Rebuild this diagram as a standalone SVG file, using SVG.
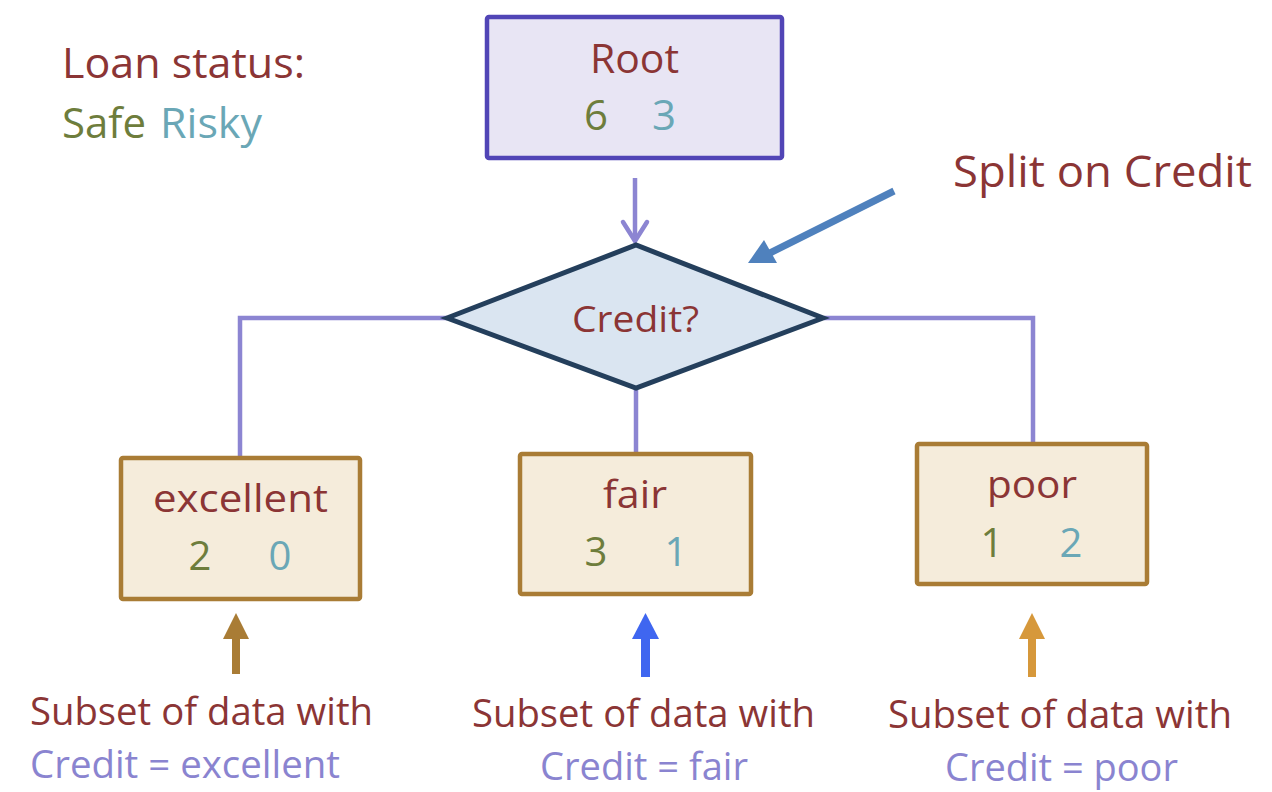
<svg xmlns="http://www.w3.org/2000/svg" width="1272" height="792" viewBox="0 0 1272 792">
<style>
text{font-family:"Open Sans","Liberation Sans",Arial,sans-serif;}
.red{fill:#8b3535;}
.safe{fill:#6e7d3c;}
.risky{fill:#6aa7b6;}
.lav{fill:#8a84d0;}
.c{text-anchor:middle;}
.leaf{fill:#f5ecdb;stroke:#a97c35;stroke-width:4.5;}
.conn{fill:none;stroke:#8c85d2;stroke-width:4.5;}
</style>
<rect width="1272" height="792" fill="#ffffff"/>
<g id="legend">
<text class="red" x="62" y="78" font-size="42" textLength="243" lengthAdjust="spacingAndGlyphs">Loan status:</text>
<text class="safe" x="62" y="138" font-size="42" textLength="84" lengthAdjust="spacingAndGlyphs">Safe</text>
<text class="risky" x="160" y="138" font-size="42" textLength="102" lengthAdjust="spacingAndGlyphs">Risky</text>
</g>
<g id="connectors">
<line class="conn" x1="635" y1="178" x2="635" y2="240"/>
<polyline class="conn" points="623,222 635,241 647,222" stroke-linecap="round"/>
<polyline class="conn" points="447,318 240,318 240,457"/>
<polyline class="conn" points="824,318 1033,318 1033,443"/>
<line class="conn" x1="636" y1="388" x2="636" y2="453"/>
</g>
<g id="root">
<rect x="487" y="17" width="295" height="141" rx="2" fill="#e8e5f4" stroke="#5145b6" stroke-width="4.5"/>
<text class="red" x="590" y="73" font-size="40" textLength="89" lengthAdjust="spacingAndGlyphs">Root</text>
<text class="safe c" x="596" y="130" font-size="42">6</text>
<text class="risky c" x="664" y="130" font-size="42">3</text>
</g>
<g id="credit">
<polygon points="447,318 636,245 823,318 636,388" fill="#dae5f1" stroke="#243f5c" stroke-width="5" stroke-linejoin="miter"/>
<text class="red" x="572" y="332" font-size="37" textLength="127" lengthAdjust="spacingAndGlyphs">Credit?</text>
</g>
<g id="split-label">
<text class="red" x="953" y="187" font-size="44" textLength="299" lengthAdjust="spacingAndGlyphs">Split on Credit</text>
<line x1="894" y1="191" x2="770" y2="253" stroke="#4f81bd" stroke-width="7"/>
<polygon points="748,263 764,240 777,263" fill="#4f81bd"/>
</g>
<g id="excellent">
<rect class="leaf" x="121" y="458" width="239" height="141" rx="2"/>
<text class="red" x="153" y="512" font-size="39" textLength="175" lengthAdjust="spacingAndGlyphs">excellent</text>
<text class="safe c" x="200" y="570" font-size="40">2</text>
<text class="risky c" x="280" y="570" font-size="40">0</text>
</g>
<g id="fair">
<rect class="leaf" x="520" y="454" width="231" height="140" rx="2"/>
<text class="red" x="603" y="508" font-size="39" textLength="64" lengthAdjust="spacingAndGlyphs">fair</text>
<text class="safe c" x="596" y="566" font-size="40">3</text>
<text class="risky c" x="676" y="566" font-size="40">1</text>
</g>
<g id="poor">
<rect class="leaf" x="917" y="444" width="230" height="140" rx="2"/>
<text class="red" x="987" y="498" font-size="39" textLength="90" lengthAdjust="spacingAndGlyphs">poor</text>
<text class="safe c" x="992" y="557" font-size="40">1</text>
<text class="risky c" x="1071" y="557" font-size="40">2</text>
</g>
<g id="note-excellent">
<rect x="232" y="636" width="8" height="38" fill="#a97c35"/>
<polygon points="223,639 236,613 249,639" fill="#a97c35"/>
<text class="red" x="30" y="725" font-size="38" textLength="343" lengthAdjust="spacingAndGlyphs">Subset of data with</text>
<text class="lav" x="30" y="778" font-size="38" textLength="310" lengthAdjust="spacingAndGlyphs">Credit = excellent</text>
</g>
<g id="note-fair">
<rect x="641" y="636" width="9" height="41" fill="#3f66f0"/>
<polygon points="632,639 645.5,613 659,639" fill="#3f66f0"/>
<text class="red" x="472" y="727" font-size="38" textLength="343" lengthAdjust="spacingAndGlyphs">Subset of data with</text>
<text class="lav" x="540" y="780" font-size="38" textLength="208" lengthAdjust="spacingAndGlyphs">Credit = fair</text>
</g>
<g id="note-poor">
<rect x="1028" y="636" width="8" height="41" fill="#d6983b"/>
<polygon points="1019,639 1032,613 1045,639" fill="#d6983b"/>
<text class="red" x="888" y="728" font-size="38" textLength="344" lengthAdjust="spacingAndGlyphs">Subset of data with</text>
<text class="lav" x="945" y="781" font-size="38" textLength="233" lengthAdjust="spacingAndGlyphs">Credit = poor</text>
</g>
</svg>
